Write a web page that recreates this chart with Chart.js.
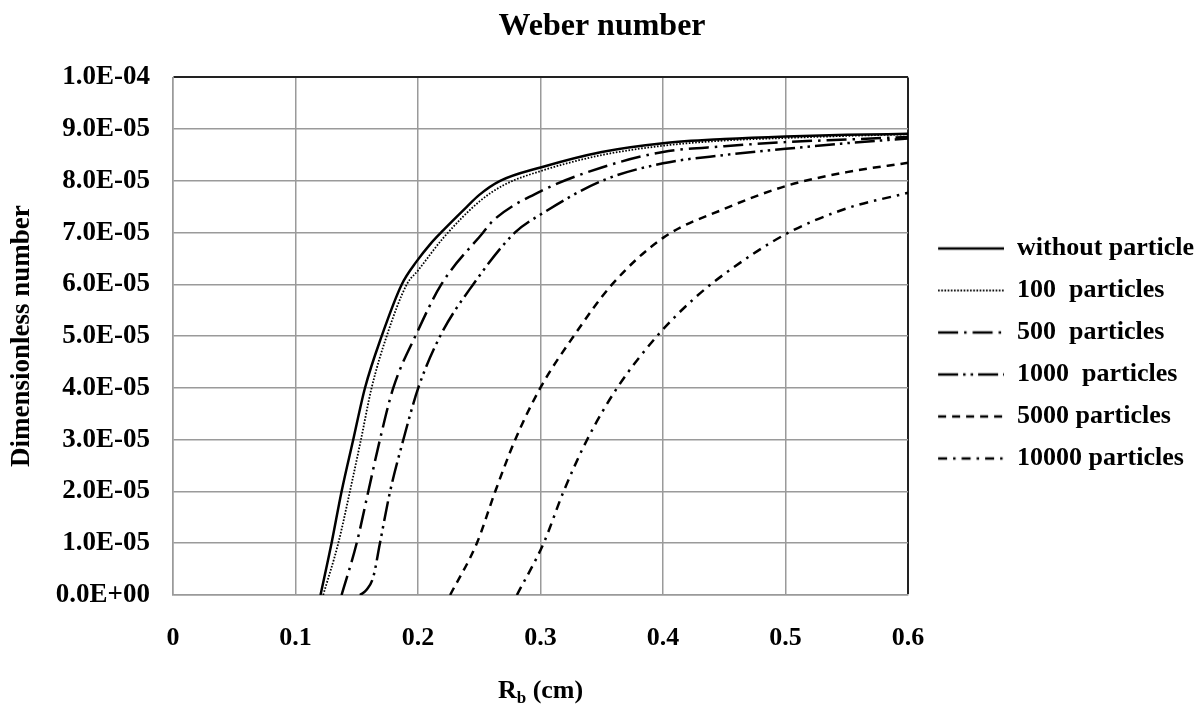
<!DOCTYPE html>
<html>
<head>
<meta charset="utf-8">
<title>Weber number</title>
<script src="https://cdn.jsdelivr.net/npm/chart.js@4.4.1/dist/chart.umd.min.js"></script>
<style>
  html, body { margin: 0; padding: 0; background: #fff; }
  #wrap { width: 1204px; height: 707px; position: relative; }
</style>
</head>
<body>
<div id="wrap"><canvas id="weberChart"></canvas></div>
<script>
/* Data (R_b in cm, Weber number in units of 1E-05) */

const seriesNames = [
    "without particle",
    "100  particles",
    "500  particles",
    "1000  particles",
    "5000 particles",
    "10000 particles"
];

const noParticleR = [0.1204, 0.1294, 0.1376, 0.1471, 0.1567, 0.1703, 0.1867, 0.199, 0.21, 0.2207, 0.2398, 0.25, 0.267, 0.30, 0.35, 0.40, 0.45, 0.50, 0.55, 0.60];
const noParticleWe = [0, 1, 2, 3, 4, 5, 6, 6.45, 6.78, 7.05, 7.5, 7.73, 8.0, 8.26, 8.56, 8.73, 8.81, 8.86, 8.89, 8.91];

const p100R = [0.1226, 0.1349, 0.1444, 0.1534, 0.1621, 0.1744, 0.1908, 0.20, 0.2207, 0.25, 0.27, 0.30, 0.35, 0.40, 0.45, 0.50, 0.55, 0.60];
const p100We = [0, 1, 2, 3, 4, 5, 6, 6.27, 6.9, 7.6, 7.92, 8.19, 8.5, 8.68, 8.78, 8.83, 8.87, 8.9];

const p500R = [0.1376, 0.1499, 0.1594, 0.1689, 0.1798, 0.199, 0.219, 0.253, 0.2616, 0.30, 0.35, 0.40, 0.45, 0.50, 0.55, 0.60];
const p500We = [0, 1, 2, 3, 4, 5.06, 6, 7, 7.24, 7.8, 8.26, 8.56, 8.67, 8.75, 8.8, 8.85];

const p1000R = [0.1526, 0.158, 0.1635, 0.1689, 0.1772, 0.188, 0.2002, 0.218, 0.245, 0.279, 0.30, 0.35, 0.40, 0.45, 0.50, 0.55, 0.60];
const p1000We = [0, 0.1, 0.35, 1, 2, 3, 4, 5, 6, 7, 7.35, 8.0, 8.34, 8.5, 8.62, 8.73, 8.82];

const p5000R = [0.2262, 0.248, 0.263, 0.2793, 0.2998, 0.327, 0.3584, 0.40, 0.45, 0.50, 0.55, 0.60];
const p5000We = [0, 1, 2, 3, 4, 5, 6, 6.9, 7.46, 7.9, 8.17, 8.35];

const p10000R = [0.2807, 0.3025, 0.3188, 0.338, 0.3625, 0.395, 0.425, 0.45, 0.50, 0.55, 0.60];
const p10000We = [0, 1, 2, 3, 4, 5, 5.72, 6.2, 6.97, 7.47, 7.77];

const xTickLabels = ["0", "0.1", "0.2", "0.3", "0.4", "0.5", "0.6"];
const yTickLabels = ["0.0E+00", "1.0E-05", "2.0E-05", "3.0E-05", "4.0E-05", "5.0E-05",
                     "6.0E-05", "7.0E-05", "8.0E-05", "9.0E-05", "1.0E-04"];

/* Styles */

const fontFamily = '"Liberation Serif", "Times New Roman", serif';
const gridGray = "#9a9a9a";

const lineStyles = [
    { dash: [], width: 2.5 },
    { dash: [1.6, 1.6], width: 1.8 },
    { dash: [20, 6, 2.5, 6], width: 2.5 },
    { dash: [20, 5, 2.5, 5, 2.5, 5], width: 2.5 },
    { dash: [8, 6], width: 2.5 },
    { dash: [9, 6, 2.5, 6], width: 2.5 }
];

const seriesR = [noParticleR, p100R, p500R, p1000R, p5000R, p10000R];
const seriesWe = [noParticleWe, p100We, p500We, p1000We, p5000We, p10000We];

// little line sample used as the legend "point style"
function makeSwatch(style) {
    const c = document.createElement("canvas");
    c.width = 80;
    c.height = 8;
    const g = c.getContext("2d");
    g.strokeStyle = "#000";
    g.lineWidth = style.width;
    g.setLineDash(style.dash);
    g.beginPath();
    g.moveTo(14, 4);
    g.lineTo(80, 4);
    g.stroke();
    return c;
}

const datasets = seriesNames.map((name, i) => ({
    label: name,
    data: seriesR[i].map((r, j) => ({ x: r, y: seriesWe[i][j] })),
    borderColor: "#000",
    backgroundColor: "#000",
    borderWidth: lineStyles[i].width,
    borderDash: lineStyles[i].dash,
    cubicInterpolationMode: "monotone",
    pointRadius: 0,
    fill: false
}));

const swatches = lineStyles.map(makeSwatch);

/* x axis title with subscript */

const xTitlePlugin = {
    id: "xTitle",
    afterDraw(chart) {
        const { ctx, chartArea } = chart;
        const base = chart.scales.x.bottom - 9;
        const bigFont = `bold 26px ${fontFamily}`;
        const subFont = `bold 17px ${fontFamily}`;
        ctx.save();
        ctx.fillStyle = "#000";
        ctx.textBaseline = "alphabetic";
        ctx.textAlign = "left";
        ctx.font = bigFont;
        const wR = ctx.measureText("R").width;
        const wUnit = ctx.measureText(" (cm)").width;
        ctx.font = subFont;
        const wSub = ctx.measureText("b").width;
        let x = (chartArea.left + chartArea.right) / 2 - (wR + wSub + wUnit) / 2;
        ctx.font = bigFont;
        ctx.fillText("R", x, base);
        x += wR;
        ctx.font = subFont;
        ctx.fillText("b", x, base + 5);
        x += wSub;
        ctx.font = bigFont;
        ctx.fillText(" (cm)", x, base);
        ctx.restore();
    }
};

new Chart(document.querySelector("#weberChart"), {
    type: "line",
    data: { datasets },
    options: {
        responsive: true,
        maintainAspectRatio: false,
        animation: false,
        devicePixelRatio: 1,
        layout: { padding: 0 },
        plugins: {
            title: {
                display: true,
                text: "Weber number",
                color: "#000",
                font: { family: fontFamily, size: 32, weight: "bold" },
                padding: { top: 8, bottom: 31 }
            },
            legend: {
                position: "right",
                align: "center",
                labels: {
                    usePointStyle: true,
                    pointStyleWidth: 80,
                    padding: 16,
                    color: "#000",
                    font: { family: fontFamily, size: 26, weight: "bold" },
                    generateLabels(chart) {
                        return chart.data.datasets.map((ds, i) => ({
                            text: ds.label,
                            fontColor: "#000",
                            fillStyle: "#000",
                            strokeStyle: "#000",
                            lineWidth: 0,
                            pointStyle: swatches[i],
                            hidden: false,
                            datasetIndex: i
                        }));
                    }
                }
            },
            tooltip: { enabled: false }
        },
        scales: {
            x: {
                type: "linear",
                min: 0,
                max: 0.6,
                ticks: {
                    stepSize: 0.1,
                    color: "#000",
                    padding: 28,
                    font: { family: fontFamily, size: 26, weight: "bold" },
                    callback: (v, i) => xTickLabels[i]
                },
                grid: {
                    drawTicks: false,
                    color: c => (c.index === 6 ? "#222" : gridGray),
                    lineWidth: c => (c.index === 6 ? 2 : 1.5)
                },
                border: { color: gridGray, width: 1.5 },
                afterFit: s => { s.height = 112; }
            },
            y: {
                type: "linear",
                min: 0,
                max: 10,
                ticks: {
                    stepSize: 1,
                    color: "#000",
                    padding: 23,
                    font: { family: fontFamily, size: 27, weight: "bold" },
                    callback: (v, i) => yTickLabels[i]
                },
                grid: {
                    drawTicks: false,
                    color: c => (c.index === 10 ? "#222" : gridGray),
                    lineWidth: c => (c.index === 10 ? 2 : 1.5)
                },
                border: { color: gridGray, width: 1.5 },
                title: {
                    display: true,
                    text: "Dimensionless number",
                    color: "#000",
                    font: { family: fontFamily, size: 27, weight: "bold" },
                    padding: { top: 6, bottom: 0 }
                },
                afterFit: s => { s.width = 173; }
            }
        }
    },
    plugins: [xTitlePlugin]
});
</script>
</body>
</html>
